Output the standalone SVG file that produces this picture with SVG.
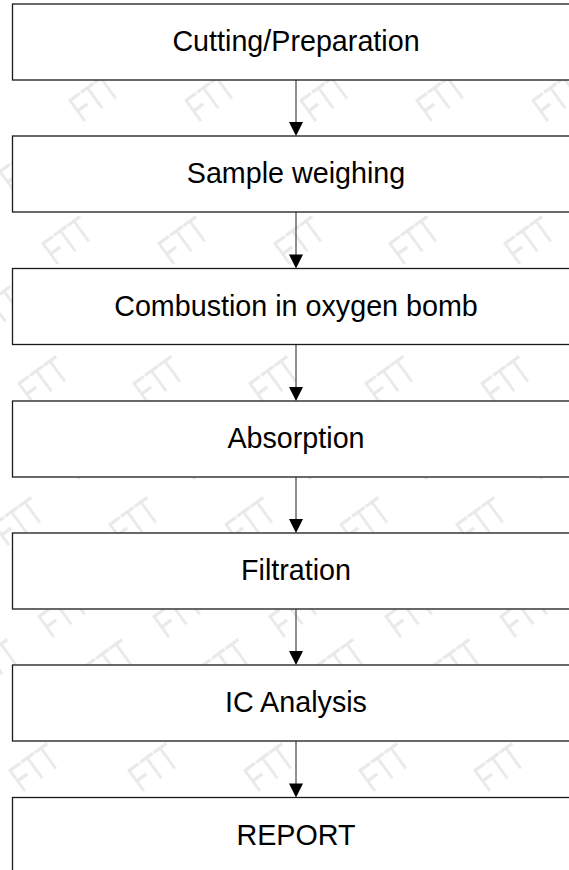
<svg xmlns="http://www.w3.org/2000/svg" width="569" height="870" viewBox="0 0 569 870">
<style>
.bg{fill:#ffffff}
.wm{font-family:"Liberation Sans",Arial,sans-serif;font-size:39px;fill:#e9e9e9}
.box{fill:#ffffff;stroke:#1a1a1a;stroke-width:1.3}
.lbl{font-family:"Liberation Sans",Arial,sans-serif;font-size:28.7px;fill:#000000;text-anchor:middle}
.edge{stroke:#333333;stroke-width:1.1;fill:none}
.head{fill:#000000}
</style>
<defs>
<text id="w" class="wm" x="0" y="14" text-anchor="middle" textLength="50" lengthAdjust="spacingAndGlyphs">FTT</text>
</defs>
<rect class="bg" x="0" y="0" width="569" height="870"/>
<g id="watermark">
<use href="#w" transform="translate(94,97) rotate(-36)"/><use href="#w" transform="translate(210,97) rotate(-36)"/><use href="#w" transform="translate(325,97) rotate(-36)"/><use href="#w" transform="translate(441,97) rotate(-36)"/><use href="#w" transform="translate(557,97) rotate(-36)"/>
<use href="#w" transform="translate(24,168) rotate(-36)"/><use href="#w" transform="translate(139,168) rotate(-36)"/><use href="#w" transform="translate(255,168) rotate(-36)"/><use href="#w" transform="translate(370,168) rotate(-36)"/><use href="#w" transform="translate(486,168) rotate(-36)"/>
<use href="#w" transform="translate(67,240) rotate(-36)"/><use href="#w" transform="translate(183,240) rotate(-36)"/><use href="#w" transform="translate(299,240) rotate(-36)"/><use href="#w" transform="translate(414,240) rotate(-36)"/><use href="#w" transform="translate(529,240) rotate(-36)"/>
<use href="#w" transform="translate(-3,310) rotate(-36)"/><use href="#w" transform="translate(112,310) rotate(-36)"/><use href="#w" transform="translate(228,310) rotate(-36)"/><use href="#w" transform="translate(343,310) rotate(-36)"/><use href="#w" transform="translate(459,310) rotate(-36)"/>
<use href="#w" transform="translate(43,380) rotate(-36)"/><use href="#w" transform="translate(158,380) rotate(-36)"/><use href="#w" transform="translate(274,380) rotate(-36)"/><use href="#w" transform="translate(390,380) rotate(-36)"/><use href="#w" transform="translate(506,380) rotate(-36)"/>
<use href="#w" transform="translate(-27,455) rotate(-36)"/><use href="#w" transform="translate(89,455) rotate(-36)"/><use href="#w" transform="translate(204,455) rotate(-36)"/><use href="#w" transform="translate(320,455) rotate(-36)"/><use href="#w" transform="translate(436,455) rotate(-36)"/><use href="#w" transform="translate(551,455) rotate(-36)"/>
<use href="#w" transform="translate(18,521) rotate(-36)"/><use href="#w" transform="translate(134,521) rotate(-36)"/><use href="#w" transform="translate(250,521) rotate(-36)"/><use href="#w" transform="translate(365,521) rotate(-36)"/><use href="#w" transform="translate(481,521) rotate(-36)"/>
<use href="#w" transform="translate(63,613) rotate(-36)"/><use href="#w" transform="translate(178,613) rotate(-36)"/><use href="#w" transform="translate(294,613) rotate(-36)"/><use href="#w" transform="translate(410,613) rotate(-36)"/><use href="#w" transform="translate(525,613) rotate(-36)"/>
<use href="#w" transform="translate(-6,663) rotate(-36)"/><use href="#w" transform="translate(109,663) rotate(-36)"/><use href="#w" transform="translate(225,663) rotate(-36)"/><use href="#w" transform="translate(340,663) rotate(-36)"/><use href="#w" transform="translate(456,663) rotate(-36)"/>
<use href="#w" transform="translate(34,767) rotate(-36)"/><use href="#w" transform="translate(153,767) rotate(-36)"/><use href="#w" transform="translate(269,767) rotate(-36)"/><use href="#w" transform="translate(384,767) rotate(-36)"/><use href="#w" transform="translate(499,767) rotate(-36)"/>
</g>
<g id="connectors">
<line class="edge" x1="296" y1="80" x2="296" y2="124"/><polygon class="head" points="289,122 303,122 296,136"/>
<line class="edge" x1="296" y1="212" x2="296" y2="256"/><polygon class="head" points="289,254.5 303,254.5 296,268.5"/>
<line class="edge" x1="296" y1="344.5" x2="296" y2="389"/><polygon class="head" points="289,387 303,387 296,401"/>
<line class="edge" x1="296" y1="477" x2="296" y2="521"/><polygon class="head" points="289,519 303,519 296,533"/>
<line class="edge" x1="296" y1="609" x2="296" y2="653"/><polygon class="head" points="289,651 303,651 296,665"/>
<line class="edge" x1="296" y1="741" x2="296" y2="785"/><polygon class="head" points="289,783.5 303,783.5 296,797.5"/>
</g>
<g id="n1"><rect class="box" x="12.5" y="4" width="600" height="76"/><text class="lbl" x="296" y="51">Cutting/Preparation</text></g>
<g id="n2"><rect class="box" x="12.5" y="136" width="600" height="76"/><text class="lbl" x="296" y="183">Sample weighing</text></g>
<g id="n3"><rect class="box" x="12.5" y="268.5" width="600" height="76"/><text class="lbl" x="296" y="315.5">Combustion in oxygen bomb</text></g>
<g id="n4"><rect class="box" x="12.5" y="401" width="600" height="76"/><text class="lbl" x="296" y="448">Absorption</text></g>
<g id="n5"><rect class="box" x="12.5" y="533" width="600" height="76"/><text class="lbl" x="296" y="580">Filtration</text></g>
<g id="n6"><rect class="box" x="12.5" y="665" width="600" height="76"/><text class="lbl" x="296" y="712">IC Analysis</text></g>
<g id="n7"><rect class="box" x="12.5" y="797.5" width="600" height="120"/><text class="lbl" x="296" y="844.5">REPORT</text></g>
</svg>
